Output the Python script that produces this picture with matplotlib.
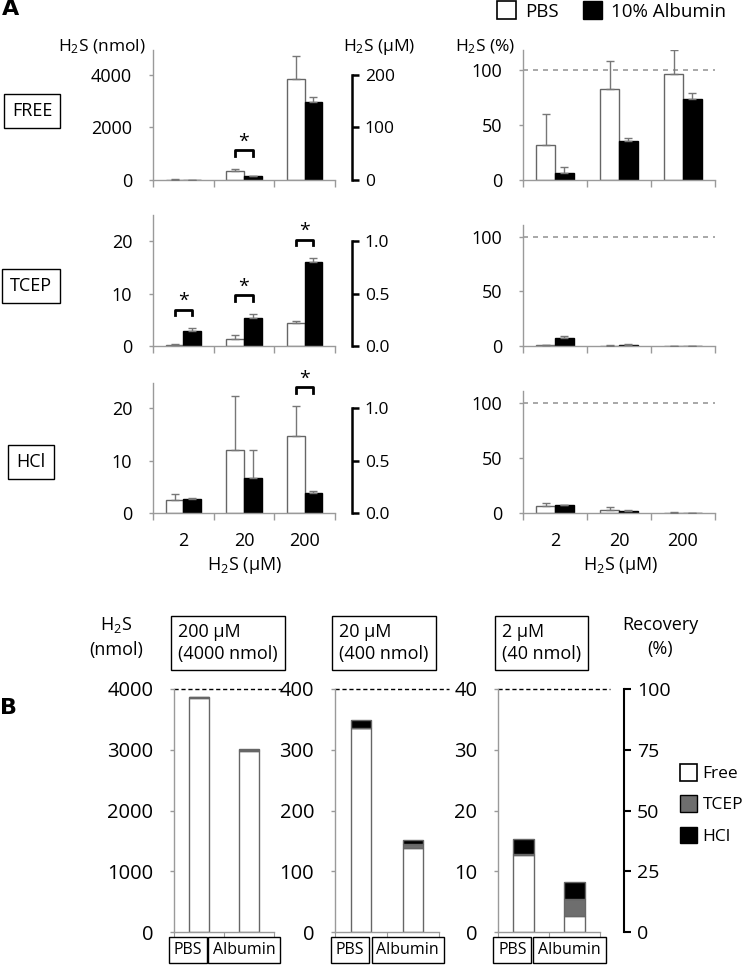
import matplotlib
matplotlib.use("Agg")
import matplotlib.pyplot as plt
from matplotlib.patches import Patch
from matplotlib.ticker import FormatStrFormatter, FixedLocator
from matplotlib.transforms import blended_transform_factory
import numpy as np

plt.rcParams['font.family'] = ['Open Sans', 'DejaVu Sans']
plt.rcParams['mathtext.fontset'] = 'custom'
plt.rcParams['mathtext.rm'] = 'Open Sans'
plt.rcParams['mathtext.default'] = 'rm'

# ---- data ----
conc_labels = ['2', '20', '200']

# panel A, nmol
free_pbs = [12.6, 335, 3860]
free_pbs_err = [11, 100, 865]
free_alb = [2.7, 150, 2985]
free_alb_err = [2.2, 15, 190]
tcep_pbs = [0.26, 1.28, 4.3]
tcep_pbs_err = [0.1, 0.77, 0.4]
tcep_alb = [2.9, 5.3, 16.0]
tcep_alb_err = [0.56, 0.85, 0.8]
hcl_pbs = [2.43, 12.1, 14.6]
hcl_pbs_err = [1.1, 10.2, 5.9]
hcl_alb = [2.75, 6.7, 3.8]
hcl_alb_err = [0.2, 5.4, 0.4]

# panel A, percent
free_pct_pbs = [31.5, 82.4, 96.1]
free_pct_pbs_err = [28, 25.5, 21.5]
free_pct_alb = [6.7, 35.2, 73.9]
free_pct_alb_err = [5.5, 3.3, 5]
tcep_pct_pbs = [0.6, 0.3, 0.1]
tcep_pct_pbs_err = [0.3, 0.2, 0.05]
tcep_pct_alb = [7.3, 1.3, 0.4]
tcep_pct_alb_err = [1.5, 0.2, 0.05]
hcl_pct_pbs = [6.1, 3.0, 0.37]
hcl_pct_pbs_err = [2.6, 2.5, 0.15]
hcl_pct_alb = [6.9, 1.7, 0.1]
hcl_pct_alb_err = [0.5, 1.3, 0.05]

sig_free = [False, True, False]
sig_tcep = [True, True, True]
sig_hcl = [False, False, True]

# panel B (order 200, 20, 2 uM)
b_titles = ['200 µM\n(4000 nmol)', '20 µM\n(400 nmol)', '2 µM\n(40 nmol)']
b_groups = ['PBS', 'Albumin']
b_free = [[3860, 2985], [335, 139], [12.6, 2.6]]
b_tcep = [[0.26, 16.0], [1.28, 5.3], [0.26, 2.9]]
b_hcl = [[14.6, 3.8], [12.1, 6.7], [2.43, 2.75]]
b_ymax = [4000, 400, 40]
b_ticks = [[0, 1000, 2000, 3000, 4000], [0, 100, 200, 300, 400], [0, 10, 20, 30, 40]]

W, H = 750, 973
fig = plt.figure(figsize=(7.5, 9.73), dpi=100)


def add_ax(x0, y0, x1, y1):
    return fig.add_axes([x0 / W, 1 - y1 / H, (x1 - x0) / W, (y1 - y0) / H])


def ftext(x, y, s, **kw):
    return fig.text(x / W, 1 - y / H, s, **kw)


GRAY = '#9a9a9a'
EDGE = '#666666'


def style_ax(ax, fs=13, pad=12):
    for s in ['top', 'right']:
        ax.spines[s].set_visible(False)
    for s in ['left', 'bottom']:
        ax.spines[s].set_color(GRAY)
        ax.spines[s].set_linewidth(1)
    ax.tick_params(axis='y', colors=GRAY, labelcolor='black', labelsize=fs,
                   length=3, width=1, pad=pad)
    ax.set_facecolor('none')


def bar_panel(ax, pbs, pbs_err, alb, alb_err, ymax, yticks, sig=None, dashed=False,
              xlabels=False):
    x = np.arange(3)
    w = 0.29
    ax.bar(x - w / 2, pbs, w, color='white', edgecolor=EDGE, lw=1, zorder=2)
    ax.bar(x + w / 2, alb, w, color='black', edgecolor='black', lw=1, zorder=2)
    ax.errorbar(x - w / 2, pbs, yerr=[np.zeros(3), pbs_err], fmt='none',
                ecolor='#777777', elinewidth=1, capsize=3, capthick=1, zorder=3)
    ax.errorbar(x + w / 2, alb, yerr=[np.zeros(3), alb_err], fmt='none',
                ecolor='#777777', elinewidth=1, capsize=3, capthick=1, zorder=3)
    ax.set_xlim(-0.5, 2.5)
    ax.set_ylim(0, ymax)
    ax.set_yticks(yticks)
    ax.xaxis.set_major_locator(FixedLocator(x))
    ax.xaxis.set_minor_locator(FixedLocator([-0.5, 0.5, 1.5, 2.5]))
    ax.tick_params(axis='x', which='major', length=0, labelsize=13, pad=14)
    ax.tick_params(axis='x', which='minor', length=5, color=GRAY, width=1)
    if xlabels:
        ax.set_xticklabels(conc_labels)
    else:
        ax.set_xticklabels([])
    if dashed:
        ax.axhline(100, color=GRAY, ls=(0, (3, 3)), lw=1.2, zorder=1)
    if sig is not None:
        for i, s in enumerate(sig):
            if not s:
                continue
            top = max(pbs[i] + pbs_err[i], alb[i] + alb_err[i])
            y0 = top + 0.10 * ymax
            y1 = y0 + 0.04 * ymax
            ax.plot([i - w / 2, i - w / 2, i + w / 2, i + w / 2], [y0, y1, y1, y0],
                    color='black', lw=2, clip_on=False, zorder=4)
            ax.text(i, y1 + 0.065 * ymax, '*', ha='center', va='center',
                    fontsize=14, clip_on=False)


def um_axis(ax, factor, bound, ticks, fmt):
    tw = ax.twinx()
    for s in ['top', 'left', 'bottom']:
        tw.spines[s].set_visible(False)
    tw.spines['right'].set_position(('outward', 12.5))
    tw.spines['right'].set_linewidth(1.8)
    tw.spines['right'].set_bounds(0, bound)
    lo, hi = ax.get_ylim()
    tw.set_ylim(lo / factor, hi / factor)
    tw.set_yticks(ticks)
    tw.yaxis.set_major_formatter(FormatStrFormatter(fmt))
    tw.tick_params(axis='y', length=5, width=1.8, labelsize=12.5, pad=4)


# ---- panel A ----
ax = add_ax(153, 50, 335, 180)
style_ax(ax)
bar_panel(ax, free_pbs, free_pbs_err, free_alb, free_alb_err, 4950, [0, 2000, 4000], sig_free)
um_axis(ax, 20, 200, [0, 100, 200], '%d')

ax = add_ax(153, 215, 335, 346)
style_ax(ax)
bar_panel(ax, tcep_pbs, tcep_pbs_err, tcep_alb, tcep_alb_err, 25, [0, 10, 20], sig_tcep)
um_axis(ax, 20, 1.0, [0, 0.5, 1.0], '%.1f')

ax = add_ax(153, 383, 335, 513)
style_ax(ax)
bar_panel(ax, hcl_pbs, hcl_pbs_err, hcl_alb, hcl_alb_err, 24.8, [0, 10, 20], sig_hcl,
          xlabels=True)
um_axis(ax, 20, 1.0, [0, 0.5, 1.0], '%.1f')

ax = add_ax(523, 50, 715, 180)
style_ax(ax)
bar_panel(ax, free_pct_pbs, free_pct_pbs_err, free_pct_alb, free_pct_alb_err, 118,
          [0, 50, 100], dashed=True)

ax = add_ax(523, 225, 715, 346)
style_ax(ax)
bar_panel(ax, tcep_pct_pbs, tcep_pct_pbs_err, tcep_pct_alb, tcep_pct_alb_err, 111,
          [0, 50, 100], dashed=True)

ax = add_ax(523, 391, 715, 513)
style_ax(ax)
bar_panel(ax, hcl_pct_pbs, hcl_pct_pbs_err, hcl_pct_alb, hcl_pct_alb_err, 111,
          [0, 50, 100], dashed=True, xlabels=True)

ftext(2, 9, 'A', fontsize=16, fontweight='bold', va='center', family='DejaVu Sans')
ftext(146, 47, 'H$_2$S (nmol)', fontsize=12.5, ha='right', va='center')
ftext(343, 47, 'H$_2$S (µM)', fontsize=12.5, ha='left', va='center')
ftext(455, 47, 'H$_2$S (%)', fontsize=12.5, ha='left', va='center')
ftext(244, 566, 'H$_2$S (µM)', fontsize=13, ha='center', va='center')
ftext(620, 566, 'H$_2$S (µM)', fontsize=13, ha='center', va='center')

box = dict(boxstyle='square,pad=0.45', fc='white', ec='black', lw=1)
ftext(32, 111, 'FREE', fontsize=13, ha='center', va='center', bbox=box)
ftext(31, 286, 'TCEP', fontsize=13, ha='center', va='center', bbox=box)
ftext(31, 462, 'HCl', fontsize=13, ha='center', va='center', bbox=box)

fig.legend(handles=[Patch(fc='white', ec='black', lw=1.2), Patch(fc='black', ec='black')],
           labels=['PBS', '10% Albumin'], loc='center left',
           bbox_to_anchor=(497 / W, 1 - 11 / H), borderpad=0, borderaxespad=0,
           ncol=2, frameon=False, fontsize=13.5, handlelength=1.0, handleheight=1.1,
           columnspacing=1.3, handletextpad=0.5)

# ---- panel B ----
b_x = [(174, 274), (335, 439), (498, 600)]
for k in range(3):
    x0, x1 = b_x[k]
    ax = add_ax(x0, 689, x1, 932)
    style_ax(ax, fs=14.5, pad=12)
    xb = np.arange(2)
    free = np.array(b_free[k])
    tcep = np.array(b_tcep[k])
    hcl = np.array(b_hcl[k])
    ax.bar(xb, free, 0.4, color='white', edgecolor=EDGE, lw=1)
    ax.bar(xb, tcep, 0.4, bottom=free, color='#6e6e6e', edgecolor=EDGE, lw=1)
    ax.bar(xb, hcl, 0.4, bottom=free + tcep, color='black', edgecolor=EDGE, lw=1)
    ax.set_xlim(-0.5, 1.5)
    ax.set_ylim(0, b_ymax[k])
    ax.set_yticks(b_ticks[k])
    ax.xaxis.set_major_locator(FixedLocator([-0.5, 0.5, 1.5]))
    ax.set_xticklabels([])
    ax.tick_params(axis='x', length=4, color=GRAY)
    ax.plot([-0.5, 1.7], [b_ymax[k], b_ymax[k]], color='black', ls=(0, (3, 2)),
            lw=1, clip_on=False)
    tr = blended_transform_factory(ax.transData, ax.transAxes)
    for i, g in enumerate(b_groups):
        ax.text(-0.22 + 1.12 * i, -0.04, g, transform=tr, ha='center', va='top',
                fontsize=11.5,
                bbox=dict(boxstyle='square,pad=0.3', fc='white', ec='black', lw=1))
    ftext(x0 + 4, 643, b_titles[k], fontsize=13, ha='left', va='center',
          linespacing=1.3, bbox=dict(boxstyle='square,pad=0.4', fc='white', ec='black', lw=1))
    if k == 2:
        tw = ax.twinx()
        for s in ['top', 'left', 'bottom']:
            tw.spines[s].set_visible(False)
        tw.spines['right'].set_position(('outward', 17.5))
        tw.spines['right'].set_linewidth(1.5)
        tw.set_ylim(0, 100)
        tw.set_yticks([0, 25, 50, 75, 100])
        tw.tick_params(axis='y', length=5, width=1.5, labelsize=14, pad=4)

ftext(0, 708, 'B', fontsize=16, fontweight='bold', va='center', family='DejaVu Sans')
ftext(116, 637, 'H$_2$S\n(nmol)', fontsize=13, ha='center', va='center', linespacing=1.4)
ftext(660, 637, 'Recovery\n(%)', fontsize=13, ha='center', va='center', linespacing=1.4)

fig.legend(handles=[Patch(fc='white', ec='black', lw=1.2), Patch(fc='#6e6e6e', ec='black'),
                    Patch(fc='black', ec='black')],
           labels=['Free', 'TCEP', 'HCl'], loc='upper left', borderpad=0, borderaxespad=0,
           bbox_to_anchor=(680 / W, 1 - 764 / H), frameon=False, fontsize=12.5,
           handlelength=1.0, handleheight=1.1, handletextpad=0.3, labelspacing=0.75)

fig.savefig('out.png', dpi=100)
